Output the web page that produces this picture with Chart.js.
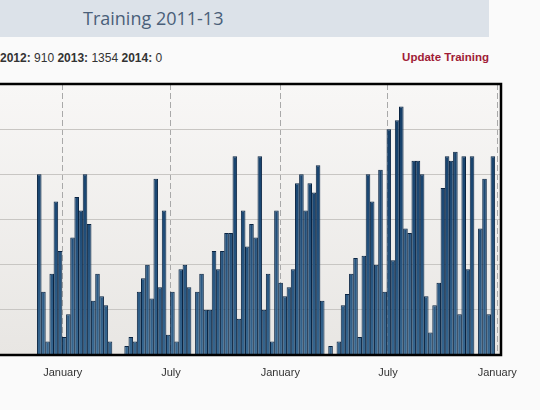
<!DOCTYPE html>
<html>
<head>
<meta charset="utf-8">
<script src="https://cdn.jsdelivr.net/npm/chart.js@4"></script>
<style>
  body { margin: 0; background: #fafafa; width: 540px; height: 410px; overflow: hidden; position: relative; font-family: 'Liberation Sans', Arial, sans-serif; }
  #band { position: absolute; left: 0; top: 0; width: 489px; height: 37px; background: #dce2e9; }
  #title { position: absolute; left: 83px; top: 6px; font-family: 'Open Sans', sans-serif; font-size: 18px; color: #4a5f79; white-space: nowrap; }
  #stats { position: absolute; left: 0; top: 51px; font-size: 12px; color: #333; white-space: nowrap; }
  #update { position: absolute; right: 51px; top: 51px; font-size: 11.5px; font-weight: bold; color: #a01c36; }
  #wrap { position: absolute; left: 0; top: 80px; width: 540px; height: 300px; }
</style>
</head>
<body>
<div id="band"><span id="title">Training 2011-13</span></div>
<div id="stats"><b>2012:</b> 910 <b>2013:</b> 1354 <b>2014:</b> 0</div>
<div id="update">Update Training</div>
<div id="wrap"><canvas id="myChart"></canvas></div>
<script>
'use strict';

// one bar per week, first week starts here
let firstWeek = '2011-11-19';

// weekly training, in grid units
let hours = [
  4.0, 1.4, 0.3, 1.8, 3.4, 2.3, 0.4, 0.9, 2.6, 3.5,
  3.2, 4.0, 2.9, 1.2, 1.8, 1.3, 1.1, 0.3, 0, 0,
  0, 0.2, 0.4, 0.3, 1.4, 1.7, 2.0, 1.25, 3.9, 1.5,
  3.2, 0.45, 1.4, 0.3, 1.9, 2.0, 1.5, 0, 1.4, 1.8,
  1.0, 1.0, 2.3, 1.9, 2.3, 2.7, 2.7, 4.4, 0.8, 3.2,
  2.4, 2.9, 2.6, 4.4, 1.0, 1.8, 0.3, 3.2, 1.6, 1.3,
  1.5, 1.9, 3.8, 4.0, 3.2, 3.8, 3.6, 4.2, 1.2, 0,
  0.2, 0, 0.3, 1.1, 1.35, 1.8, 2.15, 0.4, 2.2, 4.0,
  3.4, 2.0, 4.1, 1.4, 5.0, 2.1, 5.2, 5.5, 2.8, 2.7,
  4.3, 4.3, 4.0, 1.3, 0.5, 1.1, 1.6, 3.7, 4.4, 4.3,
  4.5, 0.9, 4.4, 1.9, 4.4, 0, 2.8, 3.9, 0.9, 4.4
];

let tickDates = ['2012-01-01', '2012-07-01', '2013-01-01', '2013-07-01', '2014-01-01'];
let tickLabels = ['January', 'July', 'January', 'July', 'January'];

function weekPos(dateStr) {
  let days = (Date.parse(dateStr) - Date.parse(firstWeek)) / 86400000;
  return days / 7 - 0.5;
}

let points = hours.map((v, i) => ({ x: i, y: v }));

let barFill = null;
function barGradient(context) {
  let chart = context.chart;
  let area = chart.chartArea;
  if (!area) {
    return '#1d4a76';
  }
  if (!barFill) {
    barFill = chart.ctx.createLinearGradient(0, area.top, 0, area.bottom);
    barFill.addColorStop(0, '#133b63');
    barFill.addColorStop(0.5, '#1d4a76');
    barFill.addColorStop(1, '#36668f');
  }
  return barFill;
}

const plotFrame = {
  id: 'plotFrame',
  beforeDraw(chart) {
    let a = chart.chartArea;
    let ctx = chart.ctx;
    let g = ctx.createLinearGradient(0, a.top, 0, a.bottom);
    g.addColorStop(0, '#f8f7f6');
    g.addColorStop(1, '#e8e6e3');
    ctx.save();
    ctx.fillStyle = g;
    ctx.fillRect(a.left, a.top, a.right - a.left, a.bottom - a.top);
    ctx.restore();
  },
  afterDatasetsDraw(chart) {
    let a = chart.chartArea;
    let ctx = chart.ctx;
    ctx.save();
    ctx.strokeStyle = '#000';
    ctx.lineWidth = 2.5;
    ctx.beginPath();
    ctx.moveTo(a.left, a.top);
    ctx.lineTo(a.right, a.top);
    ctx.lineTo(a.right, a.bottom);
    ctx.lineTo(a.left, a.bottom);
    ctx.stroke();
    ctx.restore();
  }
};

let ctx = document.getElementById('myChart').getContext('2d');
new Chart(ctx, {
  type: 'bar',
  data: {
    datasets: [
      {
        label: 'Training',
        data: points,
        backgroundColor: barGradient,
        borderColor: '#0a2442',
        borderWidth: 1,
        borderSkipped: 'start',
        barPercentage: 1.1,
        categoryPercentage: 1,
      },
    ],
  },
  options: {
    responsive: true,
    maintainAspectRatio: false,
    animation: false,
    layout: { padding: { top: 4, right: 39, left: 0, bottom: 0 } },
    plugins: {
      legend: { display: false },
      tooltip: { enabled: false },
    },
    scales: {
      x: {
        type: 'linear',
        offset: false,
        min: -9.43,
        max: 110.96,
        afterBuildTicks(scale) {
          scale.ticks = tickDates.map((d) => ({ value: weekPos(d) }));
        },
        afterFit(scale) {
          scale.height = 25;
        },
        ticks: {
          autoSkip: false,
          maxRotation: 0,
          padding: 11,
          color: '#333',
          font: { family: "'Liberation Sans', Arial, sans-serif", size: 11 },
          callback: (v, i) => tickLabels[i],
        },
        grid: { color: '#a9a9a9', lineWidth: 1, drawTicks: false, offset: false },
        border: { display: false, dash: [6, 3] },
      },
      y: {
        min: 0,
        max: 6,
        ticks: { display: false, stepSize: 1 },
        afterFit(scale) {
          scale.width = 0;
        },
        grid: { color: '#c8c6c3', lineWidth: 1, drawTicks: false },
        border: { display: false },
      },
    },
  },
  plugins: [plotFrame],
});
</script>
</body>
</html>
